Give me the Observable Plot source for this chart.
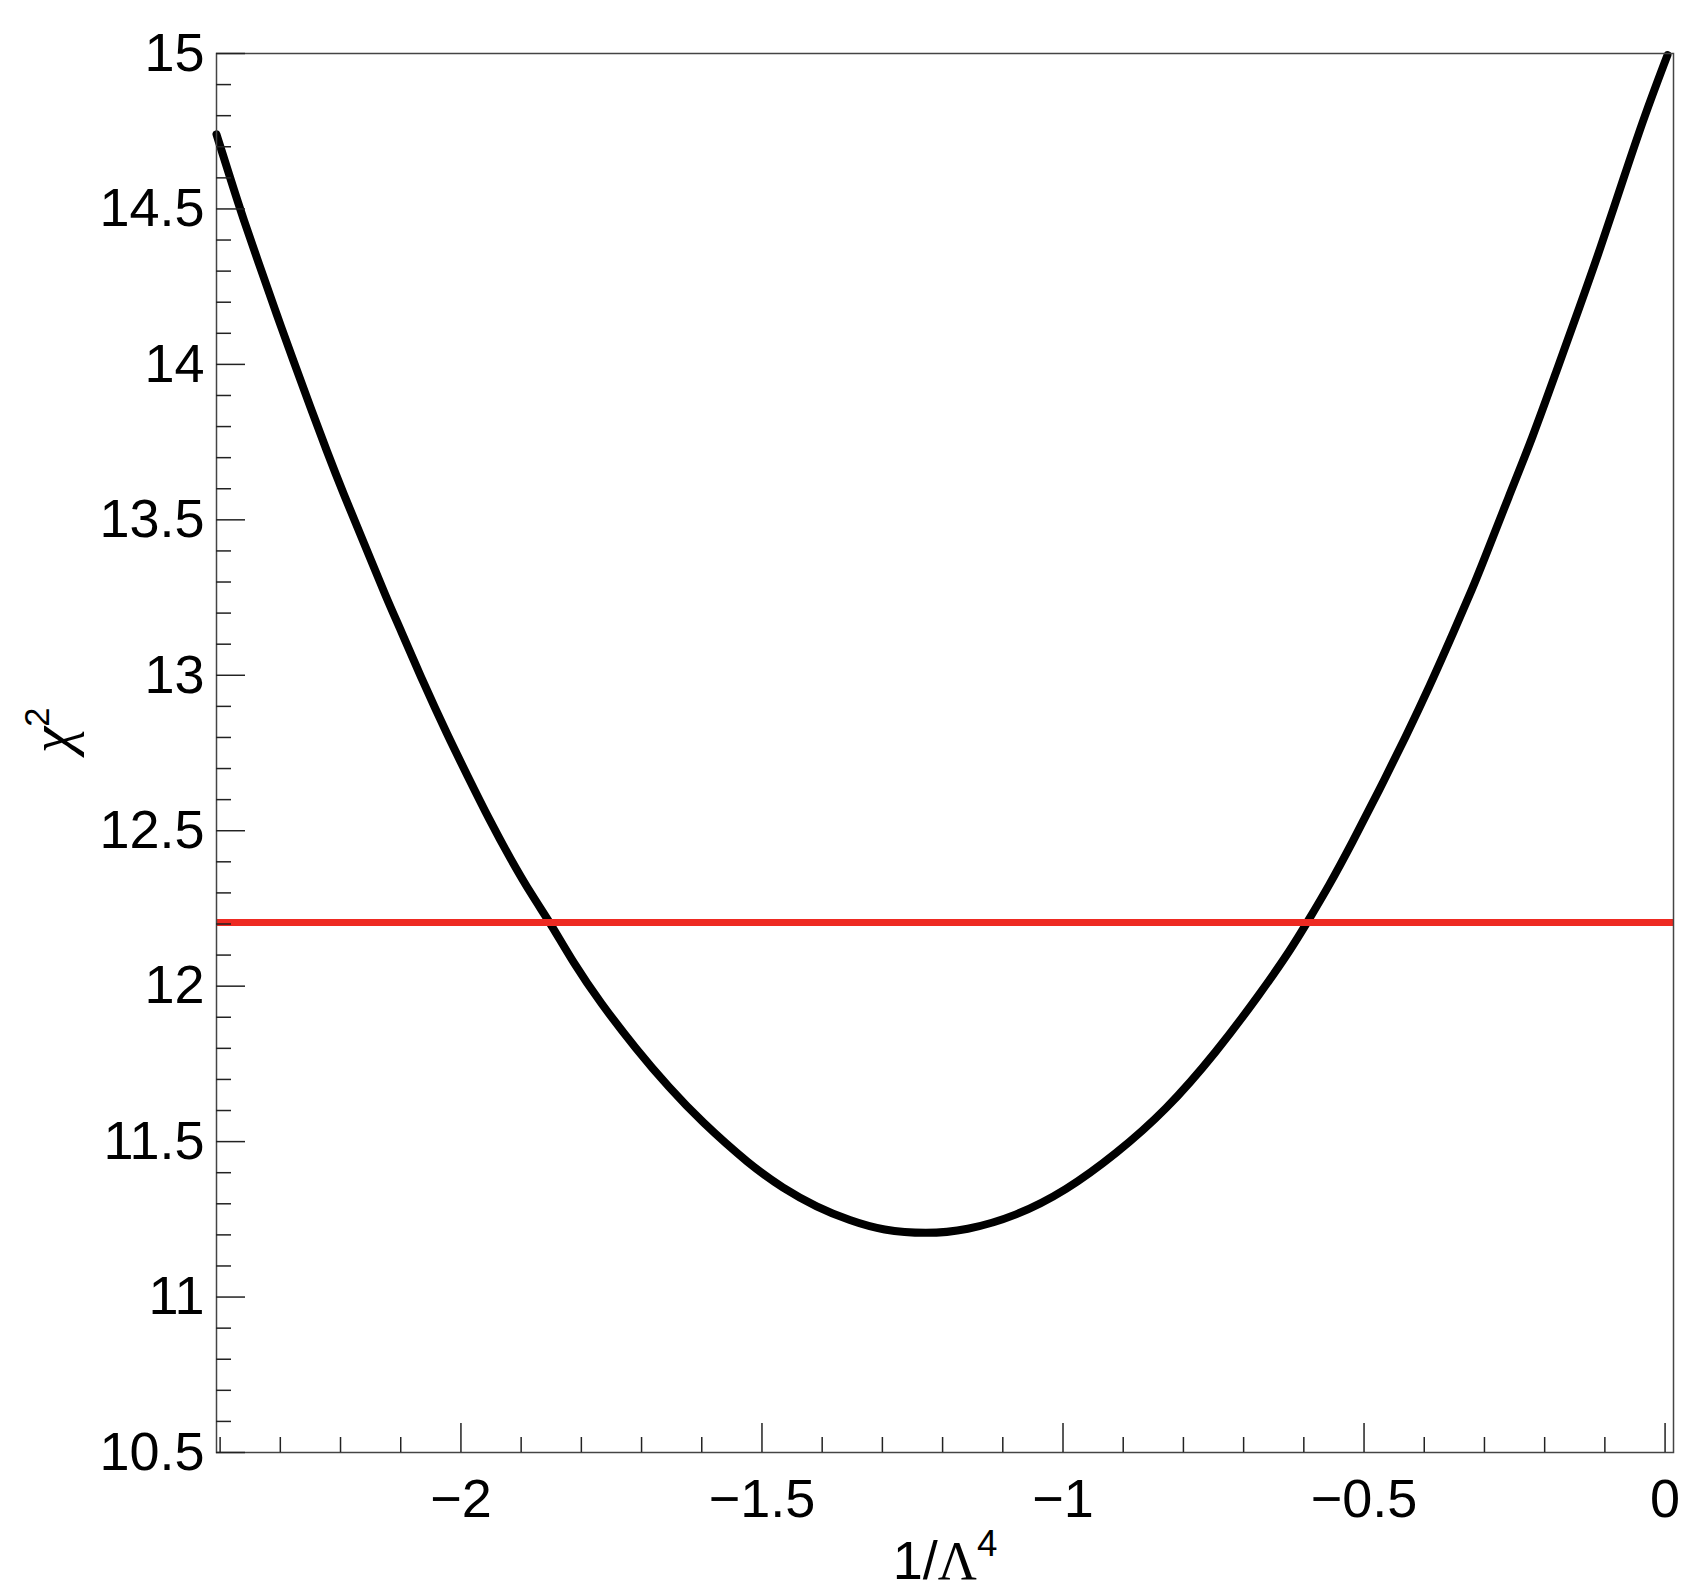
<!DOCTYPE html>
<html>
<head>
<meta charset="utf-8">
<script src="https://cdn.jsdelivr.net/npm/d3@7"></script>
<script src="https://cdn.jsdelivr.net/npm/@observablehq/plot@0.6"></script>
<style>
  html, body { margin: 0; padding: 0; background: #fff; }
  #chart { width: 1704px; height: 1594px; }
</style>
</head>
<body>
<div id="chart"></div>
<script>
// ---- data ----
const lambdaInv4 = [
  -2.406, -2.383, -2.361, -2.333, -2.306, -2.278, -2.250, -2.223, -2.195, -2.162,
  -2.123, -2.101, -2.062, -2.023, -1.990, -1.952, -1.918, -1.880, -1.852, -1.813,
  -1.769, -1.708, -1.655, -1.601, -1.520, -1.465, -1.409, -1.354, -1.299, -1.227,
  -1.161, -1.078, -0.995, -0.912, -0.829, -0.745, -0.671, -0.621, -0.593, -0.559,
  -0.520, -0.475, -0.430, -0.391, -0.351, -0.318, -0.304, -0.259, -0.220, -0.181,
  -0.141, -0.108, -0.068, -0.035, 0.004
];
const chi2 = [
  14.740, 14.598, 14.465, 14.310, 14.160, 14.010, 13.862, 13.722, 13.583, 13.430,
  13.245, 13.150, 12.974, 12.810, 12.680, 12.532, 12.410, 12.285, 12.205, 12.074,
  11.948, 11.795, 11.675, 11.565, 11.425, 11.350, 11.289, 11.246, 11.214, 11.203,
  11.214, 11.260, 11.342, 11.460, 11.600, 11.788, 11.980, 12.120, 12.210, 12.320,
  12.460, 12.630, 12.805, 12.965, 13.140, 13.288, 13.355, 13.578, 13.765, 13.975,
  14.190, 14.370, 14.604, 14.795, 14.995
];
const chi2Threshold = [12.205];

const xDomain = [-2.406, 0.014];
const yDomain = [10.5, 15];
const xMajorTicks = [-2, -1.5, -1, -0.5, 0];
const xMajorLabels = ["\u22122", "\u22121.5", "\u22121", "\u22120.5", "0"];
const xMinorTicks = [-2.4, -2.3, -2.2, -2.1, -1.9, -1.8, -1.7, -1.6, -1.4, -1.3, -1.2, -1.1,
                     -0.9, -0.8, -0.7, -0.6, -0.4, -0.3, -0.2, -0.1];
const yMajorTicks = [10.5, 11, 11.5, 12, 12.5, 13, 13.5, 14, 14.5, 15];
const yMajorLabels = ["10.5", "11", "11.5", "12", "12.5", "13", "13.5", "14", "14.5", "15"];
const yMinorTicks = [10.6, 10.7, 10.8, 10.9, 11.1, 11.2, 11.3, 11.4, 11.6, 11.7, 11.8, 11.9,
                     12.1, 12.2, 12.3, 12.4, 12.6, 12.7, 12.8, 12.9, 13.1, 13.2, 13.3, 13.4,
                     13.6, 13.7, 13.8, 13.9, 14.1, 14.2, 14.3, 14.4, 14.6, 14.7, 14.8, 14.9];
const xTitleParts = ["1/", "Λ", "4"];
const yTitleParts = ["χ", "2"];

// ---- build ----
const curve = lambdaInv4.map((x, i) => ({x, y: chi2[i]}));
const FONT = "'Liberation Sans', Arial, Helvetica, sans-serif";
const SERIF = "'Liberation Serif', 'Times New Roman', serif";
const FS = 54;
const xLabelOf = d => xMajorLabels[xMajorTicks.indexOf(d)];
const yLabelOf = d => yMajorLabels[yMajorTicks.indexOf(d)];

const plot = Plot.plot({
  width: 1704,
  height: 1594,
  marginLeft: 216,
  marginRight: 31,
  marginTop: 53,
  marginBottom: 142,
  style: {fontFamily: FONT, background: "#fff", overflow: "visible"},
  x: {domain: xDomain},
  y: {domain: yDomain},
  marks: [
    Plot.line(curve, {x: "x", y: "y", stroke: "#000", strokeWidth: 8, curve: "basis"}),
    Plot.ruleY(chi2Threshold, {stroke: "#ee2a22", strokeWidth: 7}),
    Plot.frame({stroke: "#444", strokeWidth: 1.5}),
    // minor ticks (inside)
    Plot.axisX({ticks: xMinorTicks, tickSize: -15, tickFormat: () => "", label: null, stroke: "#222", strokeWidth: 1.5}),
    Plot.axisY({ticks: yMinorTicks, tickSize: -15, tickFormat: () => "", label: null, stroke: "#222", strokeWidth: 1.5}),
    // major ticks (inside)
    Plot.axisX({ticks: xMajorTicks, tickSize: -29, tickFormat: () => "", label: null, stroke: "#222", strokeWidth: 1.5}),
    Plot.axisY({ticks: yMajorTicks, tickSize: -29, tickFormat: () => "", label: null, stroke: "#222", strokeWidth: 1.5}),
    // labels
    Plot.axisX({ticks: xMajorTicks, tickSize: 0, tickPadding: 26, fontSize: FS, label: null, fill: "#000",
                tickFormat: xLabelOf}),
    Plot.axisY({ticks: yMajorTicks, tickSize: 0, tickPadding: 12, fontSize: FS, label: null, fill: "#000",
                tickFormat: yLabelOf}),
    // axis titles (superscripts added below)
    Plot.text([xTitleParts[0]], {text: d => d, frameAnchor: "bottom", dy: 126, lineAnchor: "bottom",
                                 fontSize: FS, fill: "#000"}),
    Plot.text([yTitleParts[0]], {text: d => d, frameAnchor: "left", dx: -165, dy: 0, rotate: -90,
                                 fontSize: FS, fill: "#000"})
  ]
});

// compose titles with Greek letters and superscripts
d3.select(plot).selectAll("text").each(function () {
  const t = this.textContent;
  const sel = d3.select(this);
  if (t === xTitleParts[0]) {
    sel.append("tspan").attr("font-family", SERIF).text(xTitleParts[1]);
    sel.append("tspan").attr("dy", "-0.62em").attr("font-size", FS * 0.68).text(xTitleParts[2]);
  } else if (t === yTitleParts[0]) {
    sel.attr("font-family", SERIF).attr("font-style", "italic").attr("font-size", FS * 1.1);
    sel.append("tspan").attr("dy", "-0.62em").attr("font-family", FONT).attr("font-style", "normal")
       .attr("font-size", FS * 0.64).text(yTitleParts[1]);
  }
});

document.getElementById("chart").appendChild(plot);
</script>
</body>
</html>
